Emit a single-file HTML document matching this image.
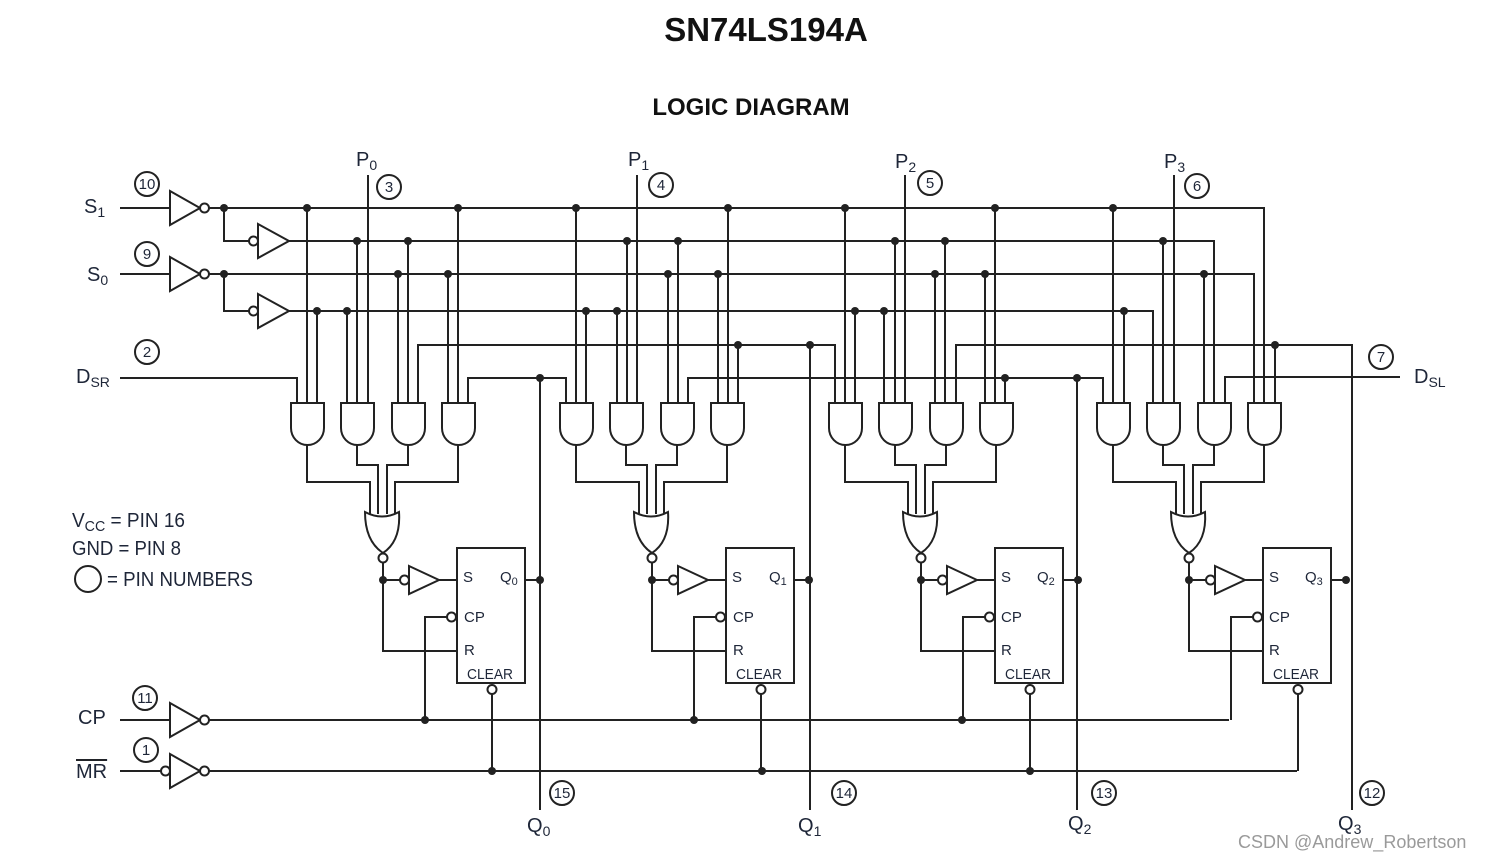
<!DOCTYPE html>
<html><head><meta charset="utf-8"><style>
html,body{margin:0;padding:0;background:#fff;}
svg{display:block;}
text{font-family:"Liberation Sans Narrow","Liberation Sans",sans-serif;fill:#1e2638;}
.t{font-family:"Liberation Sans",sans-serif;font-weight:bold;fill:#111;}
</style></head><body>
<svg width="1485" height="860" viewBox="0 0 1485 860" xmlns="http://www.w3.org/2000/svg">
<defs>
<g id="stage" fill="none" stroke="#222" stroke-width="2">
  <path fill="#fff" d="M291 403 H324 V428 A16.5 17 0 0 1 291 428 Z"/>
  <path fill="#fff" d="M341 403 H374 V428 A16.5 17 0 0 1 341 428 Z"/>
  <path fill="#fff" d="M392 403 H425 V428 A16.5 17 0 0 1 392 428 Z"/>
  <path fill="#fff" d="M442 403 H475 V428 A16.5 17 0 0 1 442 428 Z"/>
  <path d="M307 445 V482 H370 V514 M357 445 V465 H378 V514 M408 445 V465 H387 V514 M458 445 V482 H395 V514"/>
  <path fill="#fff" d="M365 512 Q382 521 399 512 Q401 541 383 553 Q365 541 365 512 Z"/>
  <circle fill="#fff" cx="383" cy="558" r="4.5"/>
  <path d="M383 562.5 V651 H457 M383 580 H400 M439 580 H457 M525 580 H540 M447 617 H425 V720 M492 694 V771"/>
  <circle fill="#fff" cx="404.5" cy="580" r="4.5"/>
  <path fill="#fff" d="M409 566 L439 580 L409 594 Z"/>
  <rect fill="#fff" x="457" y="548" width="68" height="135"/>
  <circle fill="#fff" cx="451.5" cy="617" r="4.5"/>
  <circle fill="#fff" cx="492" cy="689.5" r="4.5"/>
  <g fill="#222" stroke="none">
    <circle cx="383" cy="580" r="4"/><circle cx="540" cy="580" r="4"/>
  </g>
</g>
</defs>

<text class="t" x="766" y="41" font-size="33" text-anchor="middle">SN74LS194A</text>
<text class="t" x="751" y="115" font-size="24" text-anchor="middle">LOGIC DIAGRAM</text>

<g fill="none" stroke="#222" stroke-width="2">
  <path d="M120 208 H170 M120 274 H170"/>
  <path fill="#fff" d="M170 191 L200 208 L170 225 Z"/>
  <circle fill="#fff" cx="204.5" cy="208" r="4.5"/>
  <path fill="#fff" d="M170 257 L200 274 L170 291 Z"/>
  <circle fill="#fff" cx="204.5" cy="274" r="4.5"/>
  <path d="M209 208 H1264 V403 M224 208 V241 H249 M289 241 H1214 V403"/>
  <circle fill="#fff" cx="253.5" cy="241" r="4.5"/>
  <path fill="#fff" d="M258 224 L289 241 L258 258 Z"/>
  <path d="M209 274 H1254 V403 M224 274 V311 H249 M289 311 H1153 V403"/>
  <circle fill="#fff" cx="253.5" cy="311" r="4.5"/>
  <path fill="#fff" d="M258 294 L289 311 L258 328 Z"/>
  <path d="M120 378 H297 V403 M468 403 V378 H566 V403 M688 403 V378 H1103 V403 M1225 403 V377 H1400 M418 403 V345 H835 V403 M956 403 V345 H1352 V810"/>
  <path d="M540 378 V810 M810 345 V810 M1077 378 V810"/>
  <path d="M307 208 V403 M317 311 V403 M347 311 V403 M357 241 V403 M368 175 V403 M398 274 V403 M408 241 V403 M448 274 V403 M458 208 V403"/>
  <path d="M576 208 V403 M586 311 V403 M617 311 V403 M627 241 V403 M637 175 V403 M668 274 V403 M678 241 V403 M718 274 V403 M728 208 V403 M738 345 V403"/>
  <path d="M845 208 V403 M855 311 V403 M884 311 V403 M895 241 V403 M905 175 V403 M935 274 V403 M945 241 V403 M985 274 V403 M995 208 V403 M1005 378 V403"/>
  <path d="M1113 208 V403 M1124 311 V403 M1163 241 V403 M1174 175 V403 M1204 274 V403 M1275 345 V403"/>
  <path d="M120 720 H170 M120 771 H165"/>
  <path fill="#fff" d="M170 703 L200 720 L170 737 Z"/>
  <circle fill="#fff" cx="204.5" cy="720" r="4.5"/>
  <circle fill="#fff" cx="165.5" cy="771" r="4.5"/>
  <path fill="#fff" d="M170 754 L200 771 L170 788 Z"/>
  <circle fill="#fff" cx="204.5" cy="771" r="4.5"/>
  <path d="M209 720 H1229 M209 771 H1297"/>
  <circle cx="147" cy="184" r="12"/><circle cx="147" cy="254" r="12"/><circle cx="147" cy="352" r="12"/>
  <circle cx="145" cy="698" r="12"/><circle cx="146" cy="750" r="12"/>
  <circle cx="389" cy="187" r="12"/><circle cx="661" cy="185" r="12"/><circle cx="930" cy="183" r="12"/><circle cx="1197" cy="186" r="12"/>
  <circle cx="1381" cy="357" r="12"/>
  <circle cx="562" cy="793" r="12"/><circle cx="844" cy="793" r="12"/><circle cx="1104" cy="793" r="12"/><circle cx="1372" cy="793" r="12"/>
  <circle cx="88" cy="579" r="13"/>
</g>

<use href="#stage"/>
<use href="#stage" transform="translate(269,0)"/>
<use href="#stage" transform="translate(538,0)"/>
<use href="#stage" transform="translate(806,0)"/>

<g fill="#222">
  <circle cx="224" cy="208" r="4"/><circle cx="224" cy="274" r="4"/>
  <circle cx="307" cy="208" r="4"/><circle cx="458" cy="208" r="4"/><circle cx="576" cy="208" r="4"/><circle cx="728" cy="208" r="4"/><circle cx="845" cy="208" r="4"/><circle cx="995" cy="208" r="4"/><circle cx="1113" cy="208" r="4"/>
  <circle cx="357" cy="241" r="4"/><circle cx="408" cy="241" r="4"/><circle cx="627" cy="241" r="4"/><circle cx="678" cy="241" r="4"/><circle cx="895" cy="241" r="4"/><circle cx="945" cy="241" r="4"/><circle cx="1163" cy="241" r="4"/>
  <circle cx="398" cy="274" r="4"/><circle cx="448" cy="274" r="4"/><circle cx="668" cy="274" r="4"/><circle cx="718" cy="274" r="4"/><circle cx="935" cy="274" r="4"/><circle cx="985" cy="274" r="4"/><circle cx="1204" cy="274" r="4"/>
  <circle cx="317" cy="311" r="4"/><circle cx="347" cy="311" r="4"/><circle cx="586" cy="311" r="4"/><circle cx="617" cy="311" r="4"/><circle cx="855" cy="311" r="4"/><circle cx="884" cy="311" r="4"/><circle cx="1124" cy="311" r="4"/>
  <circle cx="738" cy="345" r="4"/><circle cx="810" cy="345" r="4"/><circle cx="1275" cy="345" r="4"/>
  <circle cx="540" cy="378" r="4"/><circle cx="1005" cy="378" r="4"/><circle cx="1077" cy="378" r="4"/>
  <circle cx="425" cy="720" r="4"/><circle cx="694" cy="720" r="4"/><circle cx="962" cy="720" r="4"/>
  <circle cx="492" cy="771" r="4"/><circle cx="762" cy="771" r="4"/><circle cx="1030" cy="771" r="4"/>
</g>

<g font-size="15" text-anchor="middle">
  <text x="147" y="189">10</text><text x="147" y="259">9</text><text x="147" y="357">2</text>
  <text x="145" y="703">11</text><text x="146" y="755">1</text>
  <text x="389" y="192">3</text><text x="661" y="190">4</text><text x="930" y="188">5</text><text x="1197" y="191">6</text>
  <text x="1381" y="362">7</text>
  <text x="562" y="798">15</text><text x="844" y="798">14</text><text x="1104" y="798">13</text><text x="1372" y="798">12</text>
</g>

<g font-size="20">
  <text x="84" y="213">S<tspan font-size="14" dy="4">1</tspan></text>
  <text x="87" y="281">S<tspan font-size="14" dy="4">0</tspan></text>
  <text x="76" y="383">D<tspan font-size="14" dy="4">SR</tspan></text>
  <text x="1414" y="383">D<tspan font-size="14" dy="4">SL</tspan></text>
  <text x="78" y="724">CP</text>
  <text x="76" y="778" text-decoration="overline">MR</text>
  <text x="356" y="166">P<tspan font-size="14" dy="4">0</tspan></text>
  <text x="628" y="166">P<tspan font-size="14" dy="4">1</tspan></text>
  <text x="895" y="168">P<tspan font-size="14" dy="4">2</tspan></text>
  <text x="1164" y="168">P<tspan font-size="14" dy="4">3</tspan></text>
  <text x="527" y="832">Q<tspan font-size="14" dy="4">0</tspan></text>
  <text x="798" y="832">Q<tspan font-size="14" dy="4">1</tspan></text>
  <text x="1068" y="830">Q<tspan font-size="14" dy="4">2</tspan></text>
  <text x="1338" y="830">Q<tspan font-size="14" dy="4">3</tspan></text>
  <text x="72" y="527" textLength="113" lengthAdjust="spacingAndGlyphs">V<tspan font-size="15" dy="4">CC</tspan><tspan dy="-4"> = PIN 16</tspan></text>
  <text x="72" y="555" textLength="109" lengthAdjust="spacingAndGlyphs">GND = PIN 8</text>
  <text x="107" y="586" textLength="146" lengthAdjust="spacingAndGlyphs">= PIN NUMBERS</text>
</g>
<line x1="76" y1="760" x2="106" y2="760" stroke="#222" stroke-width="1.5"/>

<g font-size="15">
  <text x="463" y="582">S</text><text x="500" y="582">Q<tspan font-size="11" dy="3">0</tspan></text>
  <text x="464" y="622">CP</text><text x="464" y="655">R</text><text x="467" y="679" textLength="46" lengthAdjust="spacingAndGlyphs">CLEAR</text>
  <text x="732" y="582">S</text><text x="769" y="582">Q<tspan font-size="11" dy="3">1</tspan></text>
  <text x="733" y="622">CP</text><text x="733" y="655">R</text><text x="736" y="679" textLength="46" lengthAdjust="spacingAndGlyphs">CLEAR</text>
  <text x="1001" y="582">S</text><text x="1037" y="582">Q<tspan font-size="11" dy="3">2</tspan></text>
  <text x="1001" y="622">CP</text><text x="1001" y="655">R</text><text x="1005" y="679" textLength="46" lengthAdjust="spacingAndGlyphs">CLEAR</text>
  <text x="1269" y="582">S</text><text x="1305" y="582">Q<tspan font-size="11" dy="3">3</tspan></text>
  <text x="1269" y="622">CP</text><text x="1269" y="655">R</text><text x="1273" y="679" textLength="46" lengthAdjust="spacingAndGlyphs">CLEAR</text>
</g>

<text x="1238" y="848" font-size="18" style="fill:#9a9a9a;font-family:'Liberation Sans',sans-serif">CSDN @Andrew_Robertson</text>
</svg>
</body></html>
